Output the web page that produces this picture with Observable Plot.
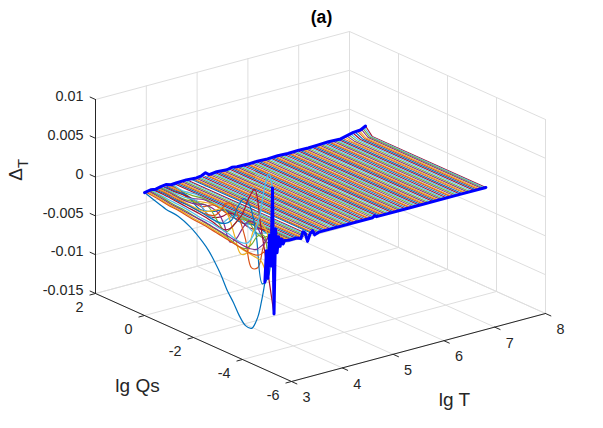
<!DOCTYPE html>
<html>
<head>
<meta charset="utf-8">
<script src="https://cdn.jsdelivr.net/npm/d3@7"></script>
<script src="https://cdn.jsdelivr.net/npm/@observablehq/plot@0.6"></script>
<style>body{margin:0;background:#fff}</style>
</head>
<body>
<div id="chart"></div>
<script>
const tTicks = [3, 4, 5, 6, 7, 8]
const qsTicks = [2, 0, -2, -4, -6]
const zTicks = [-0.015, -0.01, -0.005, 0, 0.005, 0.01]
const zTickLabels = ['-0.015', '-0.01', '-0.005', '0', '0.005', '0.01']
const lineColors = ['#0072BD', '#D95319', '#EDB120', '#7E2F8E', '#77AC30', '#4DBEEE', '#A2142F']

// one line per lg T
const lgT = [3.18,3.21,3.24,3.27,3.30,3.33,3.36,3.39,3.42,3.45,3.48,3.51,3.54,3.57,3.60,3.63,3.66,3.69,3.72,3.75,
  3.79,3.83,3.87,3.90,3.94,3.98,4.02,4.05,4.12,4.15,
  4.17,4.21,4.25,4.29,4.33,4.37,4.41,4.44,4.48,4.52,
  4.56,4.60,4.64,4.68,4.71,4.75,4.79,4.83,4.87,4.91,
  4.95,4.98,5.02,5.06,5.10,5.14,5.18,5.22,5.25,5.29,
  5.33,5.37,5.41,5.45,5.49,5.52,5.56,5.60,5.64,5.68,
  5.72,5.76,5.79,5.83,5.87,5.91,5.95,5.99,6.03,6.06,
  6.10,6.14,6.18,6.22,6.26,6.30,6.33,6.37,6.41,6.45,
  6.49,6.53,6.57,6.60,6.64,6.68,6.72,6.76,6.80,6.84,
  6.87,6.91,6.95,6.99,7.03,7.07,7.11,7.14,7.18,7.22,
  7.26,7.30,7.34,7.38,7.41,7.45,7.48,7.505,7.53]

// lg Qs samples of the oscillating low-T lines, values in units of 0.001
const qsGrid = [0.37,0,-0.5,-1,-1.5,-2,-2.25,-2.5,-2.75,-3,-3.25,-3.5,-3.75,-4,-4.25,-4.4,-4.54]
const waves = [
  [0,-.4,-.9,-1.1,-1.8,-3,-3.8,-4.9,-6.2,-7.8,-9,-10.4,-11.3,-11.3,-9.5,-7.3,-4.6],
  [0,-.13,-.39,-.52,-.77,-.9,-1.03,-1.16,-1.29,-1.42,-1.55,-1.68,-1.81,-1.81,-1.55,-1.03,-.6],
  [0,-.13,-.39,-.52,-.77,-.9,-1.03,-1.16,-1.29,-1.55,-1.68,-1.94,-2.06,-2.19,-2.32,-3.1,-4.2],
  [0,-.13,-.39,-.52,-.65,-.77,-.9,-1.03,-1.16,-1.29,-1.42,-1.55,-1.55,-1.29,-.39,.39,1.3],
  [0,-.13,-.39,-.52,-.77,-1.03,-1.16,-1.29,-1.55,-1.81,-2.06,-1.94,-1.03,.39,.77,-1.03,-2.7],
  [0,-.13,-.26,-.39,-.65,-.77,-.9,-1.03,-1.16,-1.42,-1.55,-1.29,0,2.71,7.48,8.9,7.3],
  [0,0,-.13,-.26,-.39,-.65,-.9,-1.03,-.52,.65,2.06,4.39,5.93,1.55,-3.23,-6.19,-9],
  [0,0,-.13,-.13,-.26,-.52,-.52,-.26,.52,2.58,4,3.35,0,-5.93,-4.64,.26,1.9],
  [0,0,-.13,-.26,-.39,0,1.03,2.32,2.32,1.03,-1.29,-4.64,-4.26,-1.03,.65,.39,-1.2],
  [0,0,-.13,-.26,-.26,.65,1.29,.52,-1.68,-3.61,-3.1,0,1.68,1.03,-.39,0,.8],
  [0,0,-.13,0,.52,.26,-.9,-2.84,-2.06,-.39,.9,1.03,0,-.77,-.39,0,-.5],
  [0,0,-.13,.13,.39,-1.29,-1.94,-1.03,.26,.77,.52,-.26,-.52,0,.26,0,.4],
  [0,0,0,.26,-.9,-1.29,-.39,.39,.65,.26,-.39,-.39,0,.26,0,0,-.3],
  [0,0,.13,0,-1.16,-.39,.39,.52,.13,-.26,-.26,.13,.26,0,0,0,.1],
  [0,0,.13,-.9,-.52,.39,.26,-.13,-.26,0,.19,.06,-.13,0,0,0,0],
  [0,0,-.26,-.65,.26,0,-.26,-.13,.13,.13,-.06,0,0,0,0,0,0],
  [0,0,-.52,-.13,.26,-.13,-.13,.06,.06,0,0,0,0,0,0,0,0],
  [0,-.13,-.39,.13,0,.06,0,0,0,0,0,0,0,0,0,0,0],
  [0,-.26,-.13,.13,-.06,0,0,0,0,0,0,0,0,0,0,0,0],
  [0,-.26,.06,0,0,0,0,0,0,0,0,0,0,0,0,0,0]
]

// flat lines run between these lg Qs, the last ones lift at the top end
const qsFlat = [0.37, 0.1, -4.54]
const liftLast = [.15,.2,.25,.3,.36,.42,.5,.58,.66,.74,.84,.95]

// thick blue edges
const backT = [3.18,3.3,3.4,3.5,3.6,3.7,3.8,4,4.2,4.3,4.38,4.45,4.6,4.8,4.9,5,5.2,5.4,5.6,5.8,6,6.2,6.4,6.6,6.8,7.04,7.29,7.43,7.53]
const backZ = [0,.15,.05,.2,.3,.1,.15,.2,.1,.2,.45,.1,.2,.1,.25,.15,.1,.15,.1,.15,.1,.15,.1,.15,.2,.15,.55,.62,.95]
const frontT = [3.18,3.21,3.24,3.27,3.30,3.33,3.36,3.39,3.42,3.45,3.48,3.51,3.54,3.57,3.65,3.81,3.89,3.93,3.97,4.02,4.07,4.12,4.16,4.24,5.3,5.34,5.38,6,7,7.53]
const frontZ = [-4.6,-.6,-4.2,1.3,-2.7,7.3,-9,1.9,-1.2,.8,-.5,.4,-.3,.1,0,0,-.2,.6,.4,-.8,.1,.4,-.2,0,0,.2,0,0,0,0]

const project = (T, Qs, z) => [
  291 + (T - 3) / 5 * 254 - (Qs + 6) / 8 * 196,
  381 - (T - 3) / 5 * 68 - (Qs + 6) / 8 * 88 - (z + 0.015) / 0.025 * 194
]
const pt = (g, T, Qs, z, extra) => {
  const [x, y] = project(T, Qs, z)
  return {g, x, y, ...extra}
}

const qsMax = qsTicks[0], qsMin = qsTicks[4], tMin = tTicks[0], tMax = tTicks[5]
const zMin = zTicks[0], zMax = zTicks[5]

// grid on floor and the two back walls
let grid = []
tTicks.forEach((T, i) => {
  grid.push(pt('fl' + i, T, qsMax, zMin), pt('fl' + i, T, qsMin, zMin))
  grid.push(pt('wa' + i, T, qsMax, zMin), pt('wa' + i, T, qsMax, zMax))
})
qsTicks.forEach((Q, i) => {
  grid.push(pt('fq' + i, tMin, Q, zMin), pt('fq' + i, tMax, Q, zMin))
  grid.push(pt('wq' + i, tMax, Q, zMin), pt('wq' + i, tMax, Q, zMax))
})
zTicks.forEach((Z, i) => {
  grid.push(pt('za' + i, tMin, qsMax, Z), pt('za' + i, tMax, qsMax, Z))
  grid.push(pt('zb' + i, tMax, qsMax, Z), pt('zb' + i, tMax, qsMin, Z))
})

// axes and tick marks
let axes = [
  pt('zx', tMin, qsMax, zMin), pt('zx', tMin, qsMax, zMax),
  pt('qx', tMin, qsMax, zMin), pt('qx', tMin, qsMin, zMin),
  pt('tx', tMin, qsMin, zMin), pt('tx', tMax, qsMin, zMin)
]
tTicks.forEach((T, i) => axes.push(pt('tt' + i, T, qsMin, zMin), pt('tt' + i, T, qsMin - 0.22, zMin)))
qsTicks.forEach((Q, i) => axes.push(pt('qt' + i, tMin, Q, zMin), pt('qt' + i, tMin - 0.11, Q, zMin)))
zTicks.forEach((Z, i) => axes.push(pt('zt' + i, tMin, qsMax, Z), pt('zt' + i, tMin, qsMax + 0.22, Z)))

// data lines, one group per lg T; the far ones first so near ones cover them
let waveRows = [], flatRows = []
lgT.forEach((T, k) => {
  const extra = {k}
  if (k < waves.length) {
    qsGrid.forEach((Q, j) => waveRows.push(pt(k, T, Q, waves[k][j] / 1000, extra)))
  } else {
    const lift = k >= lgT.length - liftLast.length ? liftLast[k - (lgT.length - liftLast.length)] / 1000 : 0
    flatRows.push(pt(k, T, qsFlat[0], lift, extra), pt(k, T, qsFlat[1], 0, extra), pt(k, T, qsFlat[2], 0, extra))
  }
})
waveRows = d3.sort(waveRows, d => -d.k)
flatRows = d3.sort(flatRows, d => -d.k)
const back = backT.map((T, i) => pt('b', T, qsFlat[0], backZ[i] / 1000))
const front = frontT.map((T, i) => pt('f', T, qsFlat[2], frontZ[i] / 1000))

const tickText = '#262626'
const tLabels = tTicks.map(T => { const [x, y] = project(T, qsMin, zMin); return {x: x + 15, y: y + 16, t: String(T)} })
const qLabels = qsTicks.map(Q => { const [x, y] = project(tMin, Q, zMin); return {x: x - 12, y: y + 14, t: String(Q)} })
const zLabels = zTicks.map((Z, i) => { const [x, y] = project(tMin, qsMax, Z); return {x: x - 12, y: y - 3, t: zTickLabels[i]} })

const label = (txt, x, y, opts) => Plot.text([txt], {x: () => x, y: () => y, text: d => d, fill: tickText, lineAnchor: 'middle', ...opts})

let chart = Plot.plot({
  width: 603,
  height: 428,
  margin: 0,
  x: {domain: [0, 603], range: [0, 603], axis: null},
  y: {domain: [0, 428], range: [0, 428], axis: null},
  style: {fontFamily: '"Liberation Sans", sans-serif', background: '#fff'},
  marks: [
    Plot.line(grid, {x: 'x', y: 'y', z: 'g', stroke: '#dedede', strokeWidth: 1}),
    Plot.line(axes, {x: 'x', y: 'y', z: 'g', stroke: tickText, strokeWidth: 1}),
    Plot.line(flatRows, {x: 'x', y: 'y', z: 'g', stroke: d => lineColors[d.k % 7], strokeWidth: 1.05}),
    Plot.line(waveRows, {x: 'x', y: 'y', z: 'g', stroke: d => lineColors[d.k % 7], strokeWidth: 1.2, curve: 'catmull-rom'}),
    Plot.line(back, {x: 'x', y: 'y', stroke: '#0000ff', strokeWidth: 3}),
    Plot.line(front, {x: 'x', y: 'y', stroke: '#0000ff', strokeWidth: 3}),
    Plot.text(tLabels, {x: 'x', y: 'y', text: 't', fill: tickText, fontSize: 14.4, lineAnchor: 'middle'}),
    Plot.text(qLabels, {x: 'x', y: 'y', text: 't', fill: tickText, fontSize: 14.4, textAnchor: 'end', lineAnchor: 'middle'}),
    Plot.text(zLabels, {x: 'x', y: 'y', text: 't', fill: tickText, fontSize: 14.4, textAnchor: 'end', lineAnchor: 'middle'}),
    label('lg Qs', 137, 385, {fontSize: 19}),
    label('lg T', 454, 399, {fontSize: 19}),
    label('Δ', 15, 174, {fontSize: 19, rotate: -90}),
    label('T', 23, 163, {fontSize: 15, rotate: -90}),
    label('(a)', 321, 17, {fontSize: 17.6, fontWeight: 'bold', fill: '#000'})
  ]
})

d3.select('#chart').append(() => chart)
</script>
</body>
</html>
